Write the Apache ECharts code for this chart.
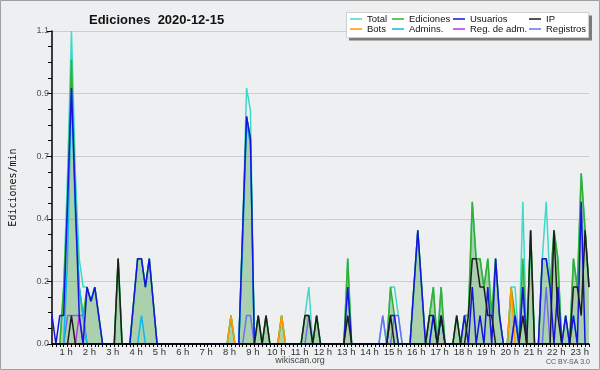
<!DOCTYPE html>
<html><head><meta charset="utf-8">
<script src="https://cdn.jsdelivr.net/npm/echarts@6/dist/echarts.min.js"></script>
<style>html,body{margin:0;padding:0;background:#eeeff0;}#c{width:600px;height:370px;}</style>
</head><body><div id="c"></div>
<script>
// hour tick labels
const hourTicks = ['1 h','2 h','3 h','4 h','5 h','6 h','7 h','8 h','9 h','10 h','11 h','12 h',
  '13 h','14 h','15 h','16 h','17 h','18 h','19 h','20 h','21 h','22 h','23 h'];
// 10-minute time slots shown on the axis (00:20 .. 23:20)
const categories = [];
for (let i = 0; i < 139; i++) {
  const m = 20 + 10 * i;
  categories.push(String(Math.floor(m / 60)).padStart(2, '0') + ':' + String(m % 60).padStart(2, '0'));
}
// edits per minute, one value per 10-minute slot
const total = [
 0,0,0,0.2,0.6,1.1,0.6,0.3,0.2,0.2,
 0.15,0.2,0.1,0,0,0,0,0.3,0,0,
 0,0.15,0.3,0.3,0.2,0.3,0.15,0,0,0,
 0,0,0,0,0,0,0,0,0,0,
 0,0,0,0,0,0,0.1,0,0,0.4,
 0.9,0.82,0,0.1,0,0.1,0,0,0,0.1,
 0,0,0,0,0,0.1,0.2,0,0.1,0,
 0,0,0,0,0,0,0.3,0,0,0,
 0,0,0,0,0,0.1,0,0.2,0.2,0.1,
 0,0,0,0.2,0.4,0.2,0,0.1,0.2,0,
 0.2,0,0,0,0.1,0,0.1,0.1,0.5,0.3,
 0.3,0.2,0.3,0.1,0.3,0.1,0,0,0.2,0.2,
 0,0.5,0,0.4,0,0,0.3,0.5,0.2,0.4,
 0.3,0,0.1,0,0.3,0.2,0.6,0.4,0.2
];
const ediciones = [
 0,0,0,0.2,0.5,1.0,0.5,0.2,0.1,0.2,
 0.15,0.2,0.1,0,0,0,0,0.3,0,0,
 0,0.15,0.3,0.3,0.2,0.3,0.15,0,0,0,
 0,0,0,0,0,0,0,0,0,0,
 0,0,0,0,0,0,0.1,0,0,0.4,
 0.8,0.72,0,0.1,0,0.1,0,0,0,0.1,
 0,0,0,0,0,0.1,0.1,0,0.1,0,
 0,0,0,0,0,0,0.3,0,0,0,
 0,0,0,0,0,0,0,0.2,0.1,0,
 0,0,0,0.2,0.4,0.2,0,0.1,0.2,0,
 0.2,0,0,0,0.1,0,0.1,0.1,0.5,0.3,
 0.3,0.2,0.3,0.1,0.3,0.1,0,0,0.2,0.1,
 0,0.3,0,0.4,0,0,0.3,0.3,0.2,0.4,
 0.3,0,0.1,0,0.3,0.2,0.6,0.4,0.2
];
const usuarios = [
 0.1,0,0.1,0.1,0.5,0.9,0.5,0.1,0,0.2,
 0.15,0.2,0.1,0,0,0,0,0,0,0,
 0,0.15,0.3,0.3,0.2,0.3,0.15,0,0,0,
 0,0,0,0,0,0,0,0,0,0,
 0,0,0,0,0,0,0,0,0,0.4,
 0.8,0.72,0,0,0,0,0,0,0,0,
 0,0,0,0,0,0,0,0,0,0,
 0,0,0,0,0,0,0.2,0,0,0,
 0,0,0,0,0,0,0,0.1,0.1,0,
 0,0,0,0.2,0.4,0.2,0,0,0.1,0,
 0.1,0,0,0,0,0,0.1,0,0.2,0,
 0.1,0,0.2,0,0.3,0.1,0,0,0,0.1,
 0,0.2,0,0,0,0,0.3,0.3,0.2,0,
 0.2,0,0.1,0,0.1,0,0.5,0,0
];
const ip = [
 0,0,0,0,0,0.1,0,0,0,0,
 0,0,0,0,0,0,0,0.3,0,0,
 0,0,0,0,0,0,0,0,0,0,
 0,0,0,0,0,0,0,0,0,0,
 0,0,0,0,0,0,0,0,0,0,
 0,0,0,0.1,0,0.1,0,0,0,0,
 0,0,0,0,0,0.1,0.1,0,0.1,0,
 0,0,0,0,0,0,0.1,0,0,0,
 0,0,0,0,0,0,0,0.1,0,0,
 0,0,0,0,0,0,0,0.1,0.1,0,
 0.1,0,0,0,0.1,0,0,0.1,0.3,0.3,
 0.2,0.2,0.1,0.1,0,0,0,0,0,0,
 0,0.1,0,0.4,0,0,0,0,0,0.4,
 0.1,0,0,0,0.2,0.2,0.1,0.4,0.2
];
const bots = [
 0,0,0,0,0,0,0,0,0,0,
 0,0,0,0,0,0,0,0,0,0,
 0,0,0,0,0,0,0,0,0,0,
 0,0,0,0,0,0,0,0,0,0,
 0,0,0,0,0,0,0.1,0,0,0,
 0,0,0,0,0,0,0,0,0,0.1,
 0,0,0,0,0,0,0,0,0,0,
 0,0,0,0,0,0,0,0,0,0,
 0,0,0,0,0,0,0,0,0,0,
 0,0,0,0,0,0,0,0,0,0,
 0,0,0,0,0,0,0,0,0,0,
 0,0,0,0,0,0,0,0,0.2,0,
 0,0,0,0,0,0,0,0,0,0,
 0,0,0,0,0,0,0,0,0
];
const admins = [
 0,0,0,0,0.3,0.9,0.45,0.2,0.1,0,
 0,0,0,0,0,0,0,0,0,0,
 0,0,0,0.1,0,0,0,0,0,0,
 0,0,0,0,0,0,0,0,0,0,
 0,0,0,0,0,0,0,0,0,0.35,
 0.78,0.7,0,0,0,0,0,0,0,0,
 0,0,0,0,0,0,0,0,0,0,
 0,0,0,0,0,0,0,0,0,0,
 0,0,0,0,0,0,0,0,0,0,
 0,0,0,0,0,0,0,0,0.1,0,
 0.1,0,0,0,0,0,0,0,0,0,
 0,0,0,0,0,0,0,0,0,0,
 0,0,0,0,0,0,0,0,0,0,
 0,0,0,0,0.1,0,0,0,0
];
const regAdm = [
 0,0,0,0,0,0,0,0.1,0,0,
 0,0,0,0,0,0,0,0,0,0,
 0,0,0,0,0,0,0,0,0,0,
 0,0,0,0,0,0,0,0,0,0,
 0,0,0,0,0,0,0,0,0,0,
 0,0,0,0,0,0,0,0,0,0,
 0,0,0,0,0,0,0,0,0,0,
 0,0,0,0,0,0,0,0,0,0,
 0,0,0,0,0,0,0,0,0,0,
 0,0,0,0,0,0,0,0,0,0,
 0,0,0,0,0,0,0,0,0,0,
 0,0,0,0,0,0,0,0,0,0,
 0,0,0,0,0,0,0,0,0,0,
 0,0,0,0,0,0,0,0,0
];
const registros = [
 0,0,0,0,0.1,0.1,0.1,0.1,0.1,0,
 0,0,0,0,0,0,0,0,0,0,
 0,0,0,0,0,0,0,0,0,0,
 0,0,0,0,0,0,0,0,0,0,
 0,0,0,0,0,0,0,0,0,0,
 0.1,0.1,0,0,0,0,0,0,0,0,
 0,0,0,0,0,0,0.1,0,0,0,
 0,0,0,0,0,0,0,0,0,0,
 0,0,0,0,0,0.1,0,0,0.1,0.1,
 0,0,0,0,0,0,0,0,0,0,
 0,0,0,0,0,0,0,0,0,0,
 0,0,0,0,0,0,0,0,0,0.1,
 0,0.2,0,0,0,0,0,0.2,0,0,
 0,0,0,0,0,0,0,0,0
];
const yTicks = [0, 0.22, 0.44, 0.66, 0.88, 1.1];

const chart = echarts.init(document.getElementById('c'), null, {renderer: 'canvas'});
function lineS(name, data, color, z, extra) {
  return Object.assign({
    name, type: 'line', data, symbol: 'none', showSymbol: false, z,
    lineStyle: {width: 1.5, color}, itemStyle: {color}, emphasis: {disabled: true}, animation: false
  }, extra || {});
}
const legendBase = {
  orient: 'vertical', top: 14, itemGap: 0, itemWidth: 12, itemHeight: 1.5, icon: 'rect',
  selectedMode: false, padding: 0, z: 10,
  textStyle: {fontSize: 9.5, lineHeight: 10, color: '#111', fontFamily: 'Liberation Sans'}
};
chart.setOption({
  backgroundColor: '#eeeff0',
  animation: false,
  title: {text: 'Ediciones  2020-12-15', left: 84, top: 9,
    textStyle: {fontFamily: 'Liberation Sans', fontWeight: 'bold', fontSize: 13, color: '#111'}},
  grid: {left: 47, right: 11, top: 31, bottom: 26},
  xAxis: {
    type: 'category', data: categories, boundaryGap: false, z: 10,
    axisLine: {lineStyle: {color: '#000', width: 1.5}},
    axisTick: {interval: 0, length: 3, lineStyle: {color: '#000'}},
    axisLabel: {
      interval: (i) => categories[i].endsWith(':00'),
      formatter: (v) => hourTicks[parseInt(v, 10) - 1],
      fontSize: 9.5, color: '#333', margin: 3, fontFamily: 'Liberation Sans', padding: [0, 3, 0, 0]
    },
    splitLine: {show: false}
  },
  yAxis: {
    type: 'value', min: yTicks[0], max: yTicks[yTicks.length - 1], interval: yTicks[1],
    name: 'Ediciones/min', nameLocation: 'middle', nameGap: 34,
    nameTextStyle: {fontFamily: 'DejaVu Sans Mono', fontSize: 10, color: '#111'},
    axisLine: {show: true, lineStyle: {color: '#000', width: 1.5}},
    axisTick: {show: true, length: 5, lineStyle: {color: '#000'}},
    minorTick: {show: true, splitNumber: 4, length: 4, lineStyle: {color: '#000'}},
    axisLabel: {formatter: (v) => v.toFixed(1), fontSize: 9, color: '#555', margin: 3, fontFamily: 'Liberation Sans'},
    splitLine: {show: true, lineStyle: {color: '#cdcdcd', width: 1}}
  },
  legend: [
    Object.assign({}, legendBase, {left: 350, data: ['Total', 'Bots']}),
    Object.assign({}, legendBase, {left: 392, data: ['Ediciones', 'Admins.']}),
    Object.assign({}, legendBase, {left: 453, data: ['Usuarios', 'Reg. de adm.']}),
    Object.assign({}, legendBase, {left: 529, data: ['IP', 'Registros']})
  ],
  graphic: [
    {type: 'rect', z: 100, silent: true, shape: {x: 0.5, y: 0.5, width: 599, height: 369},
      style: {fill: 'none', stroke: '#a0a0a0', lineWidth: 1}},
    {type: 'rect', z: 5, silent: true, shape: {x: 349, y: 15.5, width: 243, height: 25}, style: {fill: '#7c7c7c'}},
    {type: 'rect', z: 6, silent: true, shape: {x: 346.5, y: 12.5, width: 242, height: 25},
      style: {fill: '#ffffff', stroke: '#d0d0d0', lineWidth: 1}},
    {type: 'text', z: 6, silent: true, style: {text: 'wikiscan.org', x: 300, y: 361, align: 'center', verticalAlign: 'middle',
      font: '9px Liberation Sans', fill: '#444'}},
    {type: 'text', z: 6, silent: true, style: {text: 'CC BY-SA 3.0', x: 590, y: 362.5, align: 'right', verticalAlign: 'middle',
      font: '7px Liberation Sans', fill: '#555'}}
  ],
  series: [
    lineS('Total', total, '#40d8c8', 2),
    lineS('Ediciones', ediciones, '#33b033', 3, {areaStyle: {color: 'rgba(0,128,0,0.4)', origin: 'start'}}),
    lineS('Registros', registros, '#6f6ff5', 4),
    lineS('Reg. de adm.', regAdm, '#c030e0', 4),
    lineS('Bots', bots, '#ff9900', 4),
    lineS('Admins.', admins, '#10b8e8', 5),
    lineS('Usuarios', usuarios, '#1414e0', 6),
    lineS('IP', ip, '#1c1c1c', 7)
  ]
});
</script></body></html>
